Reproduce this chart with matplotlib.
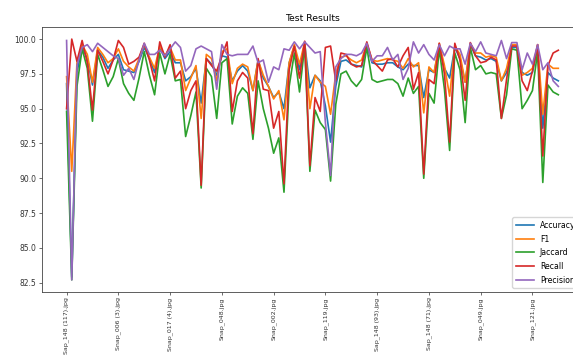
import matplotlib
matplotlib.use("Agg")
import matplotlib.pyplot as plt
import numpy as np

# per-image scores (percent), in test-set order
accuracy = [96.8, 82.9, 97.6, 99.4, 98.6, 96.7, 99.2, 98.7, 97.9, 98.5,
            98.9, 97.8, 97.7, 97.6, 98.4, 99.4, 98.6, 97.6, 99.4, 98.6,
            99.1, 98.3, 98.3, 97.0, 97.3, 97.9, 95.4, 98.6, 98.2, 97.4,
            98.8, 98.7, 97.0, 97.7, 98.1, 97.7, 96.3, 98.5, 97.2, 96.6,
            95.8, 96.2, 95.0, 98.3, 99.5, 97.8, 99.7, 96.5, 97.4, 97.0,
            95.2, 92.6, 96.6, 98.4, 98.5, 98.2, 98.1, 98.0, 99.6, 98.3,
            98.2, 98.2, 98.3, 98.3, 98.0, 97.8, 98.2, 98.1, 98.1, 95.8,
            97.8, 97.6, 99.5, 97.9, 97.2, 99.4, 98.6, 96.9, 99.6, 98.8,
            98.7, 98.5, 98.6, 98.4, 97.0, 97.6, 99.4, 99.4, 97.6, 97.4,
            97.6, 99.4, 93.6, 97.6, 97.2, 97.0]
f1 = [97.3, 90.5, 98.3, 99.6, 98.9, 96.9, 99.4, 98.9, 98.3, 98.6,
      99.3, 98.4, 98.0, 97.7, 98.6, 99.6, 98.7, 97.9, 99.5, 98.8,
      99.4, 98.5, 98.5, 96.3, 97.2, 98.1, 94.3, 98.9, 98.6, 97.0,
      99.1, 99.3, 96.8, 97.9, 98.2, 98.0, 96.3, 98.5, 97.4, 96.6,
      95.7, 96.3, 94.2, 98.3, 99.6, 98.2, 99.8, 95.0, 97.4, 96.9,
      96.6, 94.6, 97.5, 98.7, 98.8, 98.5, 98.3, 98.5, 99.7, 98.5,
      98.4, 98.5, 98.6, 98.5, 98.4, 97.9, 98.6, 98.0, 98.3, 94.7,
      98.0, 97.6, 99.7, 98.1, 95.9, 99.5, 98.9, 96.9, 99.7, 99.0,
      99.0, 98.7, 98.8, 98.7, 97.0, 97.9, 99.6, 99.6, 97.4, 97.6,
      97.9, 99.6, 94.6, 98.2, 97.9, 97.9]
jaccard = [94.8, 82.7, 96.6, 99.3, 97.9, 94.1, 98.9, 97.8, 96.6, 97.3,
           98.6, 96.8, 96.1, 95.6, 97.2, 99.1, 97.4, 96.0, 99.0, 97.5,
           98.9, 97.0, 97.1, 93.0, 94.5, 96.2, 89.3, 97.9, 97.3, 94.3,
           98.3, 98.6, 93.9, 95.9, 96.5, 96.1, 92.8, 97.0, 95.0, 93.6,
           91.8, 92.9, 89.0, 96.6, 99.0, 96.2, 99.5, 90.5, 94.9, 94.0,
           93.5, 89.8, 95.3, 97.5, 97.7, 97.0, 96.6, 97.1, 99.4, 97.1,
           96.9, 97.0, 97.1, 97.1, 96.8, 95.9, 97.2, 96.1, 96.6, 90.0,
           96.1, 95.4, 99.3, 96.4, 92.0, 99.0, 97.8, 94.0, 99.4, 97.8,
           98.1, 97.5, 97.6, 97.5, 94.3, 96.0, 99.3, 99.2, 95.0, 95.6,
           96.3, 99.1, 89.7, 96.7, 96.2, 96.0]
recall = [95.0, 100.0, 98.4, 99.9, 98.3, 94.9, 99.2, 98.4, 97.5, 98.5,
          99.9, 99.4, 98.2, 98.4, 98.7, 99.7, 98.5, 97.0, 99.8, 98.7,
          99.6, 97.2, 97.7, 95.0, 96.3, 97.0, 89.5, 98.6, 98.1, 97.7,
          98.8, 99.8, 94.8, 97.0, 97.6, 97.2, 93.2, 98.6, 96.4, 96.3,
          93.6, 94.8, 89.6, 97.8, 99.5, 97.2, 99.85, 90.9, 95.8, 94.8,
          99.4, 99.5, 97.0, 99.0, 98.9, 98.2, 98.0, 98.1, 99.8, 98.5,
          98.1, 97.7, 98.5, 98.6, 98.0, 98.8, 99.4, 96.4, 97.6, 90.3,
          97.1, 96.8, 99.7, 97.5, 92.6, 99.7, 98.5, 95.6, 99.75, 98.8,
          98.3, 98.4, 98.7, 98.5, 94.3, 97.1, 99.5, 99.5, 97.0, 96.3,
          97.7, 99.6, 91.6, 98.1, 99.0, 99.2]
precision = [99.9, 82.7, 98.1, 99.4, 99.6, 99.1, 99.7, 99.4, 99.1, 98.8,
             98.6, 97.4, 97.9, 97.1, 98.5, 99.7, 98.9, 98.9, 99.2, 98.8,
             99.3, 99.8, 99.4, 97.7, 98.1, 99.3, 99.5, 99.3, 99.1, 96.4,
             99.6, 98.9, 98.8, 98.9, 98.9, 98.9, 99.5, 98.3, 98.5, 96.9,
             98.0, 97.8, 99.3, 99.2, 99.8, 99.3, 99.8, 99.4, 99.0, 99.1,
             94.0, 90.2, 98.0, 98.6, 98.9, 98.9, 98.8, 99.0, 99.7, 98.4,
             98.8, 98.8, 99.4, 98.5, 98.9, 97.1, 97.9, 99.8, 99.0, 99.6,
             98.9, 98.5, 99.6, 98.8, 99.5, 99.3, 99.3, 98.2, 99.7, 99.1,
             99.8, 99.0, 98.9, 98.8, 99.9, 98.6, 99.75, 99.75, 97.8, 99.0,
             98.2, 99.6, 97.8, 98.3, 97.0, 96.6]

# only every 10th image name is shown on the x axis
tick_every = 10
tick_names = ["Sap_148 (117).jpg", "Snap_006 (3).jpg", "Snap_017 (4).jpg",
              "Snap_048.jpg", "Snap_002.jpg", "Snap_119.jpg",
              "Sap_148 (93).jpg", "Sap_148 (71).jpg", "Snap_049.jpg",
              "Snap_121.jpg"]

series = [("Accuracy", accuracy), ("F1", f1), ("Jaccard", jaccard),
          ("Recall", recall), ("Precision", precision)]

plt.rcParams["font.family"] = "DejaVu Sans"
plt.rcParams["font.size"] = 5.5

fig = plt.figure(figsize=(5.73, 3.56), dpi=100)
# axes runs a little past the right edge of the canvas
ax = fig.add_axes([0.0733, 0.18, 0.944, 0.744])

x = np.arange(len(accuracy))
for name, vals in series:
    ax.plot(x, vals, lw=1.2, label=name)

ax.set_title("Test Results", fontsize=6.7, pad=4.5)
ax.set_xticks(x[::tick_every])
ax.set_xticklabels(tick_names, rotation=90, fontsize=4.5)
ax.tick_params(axis="both", length=2, width=0.5, pad=2, colors="#333333")
ax.tick_params(axis="y", labelsize=5.5)
for sp in ax.spines.values():
    sp.set_linewidth(0.6)
    sp.set_color("#444444")

ax.legend(loc="lower right", fontsize=5.6, handlelength=2.3,
          borderpad=0.45, labelspacing=0.6, framealpha=0.8)

fig.savefig("out.png", dpi=100)
